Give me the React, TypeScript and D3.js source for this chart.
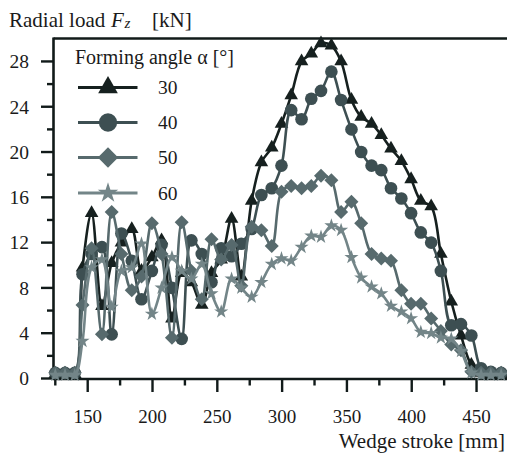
import React from 'react';
import * as d3 from 'd3';

const stroke = [125, 132.5, 140, 146, 153, 161, 168.5, 176, 184, 191.5, 199.5, 207, 215, 222.5, 230, 238, 245.5, 253, 261, 268.5, 276.5, 284, 292, 299.5, 307, 315, 322.5, 330, 338, 345.5, 353.5, 361, 369, 376.5, 384, 392, 399.5, 407, 415, 422.5, 430.5, 438, 446, 453.5, 461, 469];

const load30 = [0.4, 0.4, 0.4, 9.8, 14.6, 6.4, 10.2, 12.0, 13.2, 9.5, 10.7, 12.2, 5.3, 9.3, 8.5, 6.5, 9.3, 10.5, 14.1, 9.0, 15.7, 19.1, 20.4, 22.5, 25.0, 28.0, 28.7, 29.6, 29.4, 28.0, 24.6, 23.1, 22.5, 21.5, 20.3, 19.2, 17.6, 15.7, 15.2, 11.0, 6.8, 3.8, 1.2, 0.5, 0.4, 0.4];
const load40 = [0.5, 0.5, 0.5, 9.2, 11.0, 11.6, 3.9, 12.8, 10.4, 7.0, 9.5, 11.8, 8.0, 3.5, 12.2, 11.0, 8.5, 11.5, 10.8, 11.9, 13.2, 16.2, 16.8, 18.8, 23.7, 22.9, 24.7, 25.4, 27.1, 24.6, 22.0, 20.0, 18.8, 18.4, 16.8, 15.9, 14.6, 12.9, 12.0, 9.5, 4.7, 4.8, 3.8, 0.9, 0.6, 0.5];
const load50 = [0.5, 0.5, 0.5, 6.5, 11.5, 3.9, 14.7, 11.0, 7.8, 9.0, 13.7, 11.0, 3.6, 13.8, 9.5, 7.0, 12.3, 10.5, 11.8, 8.2, 13.4, 13.1, 11.7, 16.5, 17.0, 16.8, 17.0, 17.9, 17.5, 14.7, 15.6, 13.7, 11.0, 10.6, 10.4, 7.8, 6.6, 6.6, 5.3, 4.2, 3.0, 2.5, 0.6, 0.5, 0.5, 0.5];
const load60 = [0.3, 0.3, 0.3, 3.3, 9.8, 10.5, 6.3, 9.5, 9.8, 11.9, 5.7, 8.0, 10.7, 9.5, 8.8, 10.1, 7.5, 5.9, 8.8, 8.0, 7.2, 8.5, 10.1, 10.6, 10.4, 11.6, 12.6, 12.5, 13.5, 13.1, 10.7, 8.9, 8.1, 7.5, 6.4, 5.9, 5.3, 4.1, 4.0, 3.6, 3.5, 2.4, 0.5, 0.3, 0.3, 0.3];

const angles = ['30', '40', '50', '60'];
const yTicks = [0, 4, 8, 12, 16, 20, 24, 28];
const yMinor = [2, 6, 10, 14, 18, 22, 26];
const xTicks = [150, 200, 250, 300, 350, 400, 450];
const xMinor = [125, 175, 225, 275, 325, 375, 425];

const colors = ['#16201f', '#3d4f52', '#576a6d', '#738588'];
const FONT = '"Liberation Serif", LiberationSerif, Tinos, "Times New Roman", Times, "Nimbus Roman", "Nimbus Roman No9 L", "DejaVu Serif", "Noto Serif", FreeSerif, serif';
const TXT: React.CSSProperties = { fontFamily: FONT };

type Shape = 'triangle' | 'circle' | 'diamond' | 'star';
const shapes: Shape[] = ['triangle', 'circle', 'diamond', 'star'];

function markerPath(shape: Shape, scale: number): string {
  if (shape === 'triangle') return d3.symbol().type(d3.symbolTriangle).size(80 * scale * scale)() as string;
  if (shape === 'circle') return d3.symbol().type(d3.symbolCircle).size(125 * scale * scale)() as string;
  if (shape === 'star') return d3.symbol().type(d3.symbolStar).size(62 * scale * scale)() as string;
  const r = 7 * scale;
  return `M0,${-r}L${r},0L0,${r}L${-r},0Z`;
}

export default function App() {
  const W = 507, H = 454;
  const x = d3.scaleLinear().domain([125, 473.5]).range([55.3, 507]);
  const y = d3.scaleLinear().domain([0, 30]).range([378.5, 38.8]);
  const series = [load30, load40, load50, load60];
  const line = d3.line<number>()
    .x((_, i) => x(stroke[i]))
    .y((d) => y(d))
    .curve(d3.curveCatmullRom.alpha(0.5));

  const legendY = [87.5, 122.5, 157.5, 193];

  return (
    <svg width={W} height={H} style={{ position: 'absolute', left: 0, top: 0, background: '#fff', fontFamily: FONT }}>
      <rect x={0} y={0} width={W} height={H} fill="#fff" />
      {/* frame */}
      <line x1={53.5} x2={507} y1={38.5} y2={38.5} stroke="#111a19" strokeWidth={2.6} />
      <line x1={53.5} x2={53.5} y1={37.5} y2={379.5} stroke="#111a19" strokeWidth={2.6} />
      <line x1={52.5} x2={507} y1={379} y2={379} stroke="#111a19" strokeWidth={2.6} />
      {yTicks.map((t) => (
        <g key={'yt' + t}>
          <line x1={41} x2={54} y1={y(t)} y2={y(t)} stroke="#111a19" strokeWidth={2.4} />
          <text x={29} y={y(t)} dy="0.35em" textAnchor="end" fontSize={19.5} fill="#1a1a1a" style={TXT}>{t}</text>
        </g>
      ))}
      {yMinor.map((t) => (
        <line key={'ym' + t} x1={47} x2={54} y1={y(t)} y2={y(t)} stroke="#111a19" strokeWidth={2.4} />
      ))}
      {xTicks.map((t) => (
        <g key={'xt' + t}>
          <line x1={x(t)} x2={x(t)} y1={379} y2={392} stroke="#111a19" strokeWidth={2.4} />
          <text x={x(t)} y={423} textAnchor="middle" fontSize={19} fill="#1a1a1a" style={TXT}>{t}</text>
        </g>
      ))}
      {xMinor.map((t) => (
        <line key={'xm' + t} x1={x(t)} x2={x(t)} y1={379} y2={385.5} stroke="#111a19" strokeWidth={2.4} />
      ))}
      {/* axis titles */}
      <text y={26.5} fontSize={21} fill="#1a1a1a" style={TXT}>
        <tspan x={9}>Radial load</tspan>
        <tspan x={111} fontStyle="italic">F</tspan>
        <tspan x={124.5} dy={1.5} fontSize={15} fontStyle="italic">z</tspan>
        <tspan x={152} dy={-1.5}>[kN]</tspan>
      </text>
      <text x={505} y={448} textAnchor="end" fontSize={21} fill="#1a1a1a" style={TXT}>Wedge stroke [mm]</text>

      {/* data */}
      {series.map((vals, si) => (
        <g key={'s' + si}>
          <path d={line(vals) as string} fill="none" stroke={colors[si]} strokeWidth={2.6} />
          {vals.map((v, i) => (
            <path key={i} d={markerPath(shapes[si], 1)} transform={`translate(${x(stroke[i])},${y(v)})`} fill={colors[si]} />
          ))}
        </g>
      ))}

      {/* legend */}
      <text x={75} y={63.5} fontSize={20} fill="#1a1a1a" style={TXT}>Forming angle α [°]</text>
      {angles.map((a, i) => (
        <g key={'lg' + a}>
          <line x1={78} x2={137.5} y1={legendY[i]} y2={legendY[i]} stroke={colors[i]} strokeWidth={3} />
          <path d={markerPath(shapes[i], 1.45)} transform={`translate(108,${legendY[i]})`} fill={colors[i]} />
          <text x={158} y={legendY[i]} dy="0.35em" fontSize={19.5} fill="#1a1a1a" style={TXT}>{a}</text>
        </g>
      ))}
    </svg>
  );
}
